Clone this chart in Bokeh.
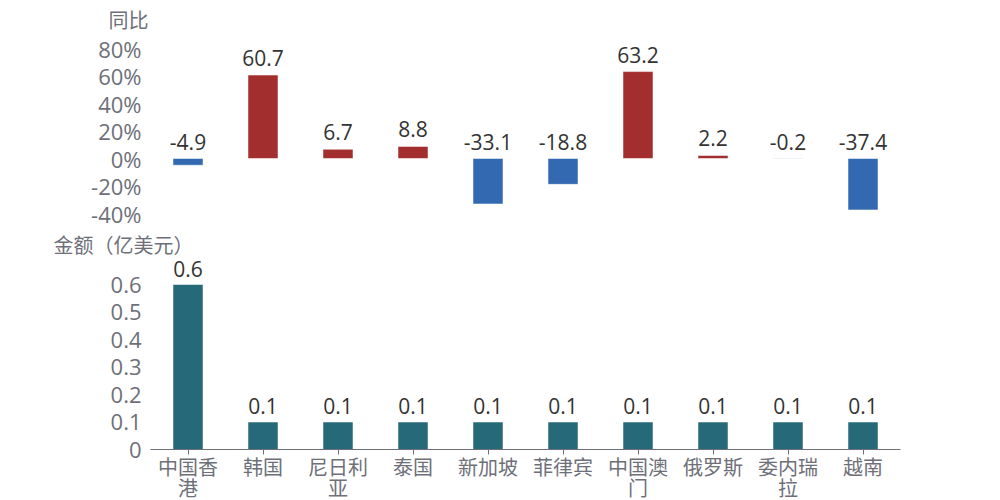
from bokeh.plotting import figure
from bokeh.layouts import column
from bokeh.models import (ColumnDataSource, FactorRange, Range1d, FixedTicker,
                          PrintfTickFormatter, CustomJSTickFormatter, Title, CategoricalAxis)
from bokeh.core.properties import value
from bokeh.embed import file_html
from bokeh.resources import INLINE

categories = ["中国香港", "韩国", "尼日利亚", "泰国", "新加坡", "菲律宾", "中国澳门", "俄罗斯", "委内瑞拉", "越南"]
label_line1 = ["中国香", "韩国", "尼日利", "泰国", "新加坡", "菲律宾", "中国澳", "俄罗斯", "委内瑞", "越南"]
label_line2 = ["港", "", "亚", "", "", "", "门", "", "拉", ""]
yoy = [-4.9, 60.7, 6.7, 8.8, -33.1, -18.8, 63.2, 2.2, -0.2, -37.4]
amount = [0.6, 0.1, 0.1, 0.1, 0.1, 0.1, 0.1, 0.1, 0.1, 0.1]
yoy_ticks = [-40, -20, 0, 20, 40, 60, 80]
amount_ticks = [0, 0.1, 0.2, 0.3, 0.4, 0.5, 0.6]

FONT = "Open Sans, Noto Sans CJK SC"
CJK = "Noto Sans CJK SC"
GREY = "#6e7079"
RED = "#a32e2e"
BLUE = "#3369b0"
TEAL = "#266a7a"

top_src = ColumnDataSource(dict(
    cat=categories, v=yoy,
    color=[RED if x >= 0 else BLUE for x in yoy],
    ly=[max(x, 0) for x in yoy],
    txt=[f"{x:.1f}" for x in yoy],
))
bot_src = ColumnDataSource(dict(
    cat=categories, v=amount, txt=[f"{x:.1f}" for x in amount],
))

def line_formatter(lines):
    return CustomJSTickFormatter(
        args=dict(cats=categories, lines=lines),
        code="const i = cats.indexOf(tick); return i >= 0 ? lines[i] : String(tick);")

# ---- top panel ----  (80% at y=48, -40% at y=213)
p1 = figure(x_range=FactorRange(*categories), y_range=Range1d(-40, -40 + 177 / 1.375),
            frame_width=750, frame_height=177, min_border_left=150, min_border_right=100,
            min_border_top=36, min_border_bottom=17, x_axis_location=None,
            output_backend="svg", toolbar_location=None)
p1.title = Title(text="同比", align="left", offset=-42, standoff=5,
                 text_font=CJK, text_font_size="20px", text_font_style="normal",
                 text_color=GREY)
p1.vbar(x="cat", top="v", bottom=0, width=0.4, source=top_src, fill_color="color",
        line_color="white", line_alpha=0.5, line_width=1)
p1.text(x="cat", y="ly", text="txt", source=top_src, text_align="center",
        text_baseline="bottom", y_offset=-9, text_font=value(FONT),
        text_font_size="21px", text_color="#333333")
p1.yaxis.ticker = FixedTicker(ticks=yoy_ticks)
p1.yaxis.formatter = PrintfTickFormatter(format="%d%%")

# ---- bottom panel ---- (0 at y=449, 0.1 per 27.5px)
p2 = figure(x_range=p1.x_range, y_range=Range1d(0, 193 / 275),
            frame_width=750, frame_height=193, min_border_left=150, min_border_right=100,
            min_border_top=26, min_border_bottom=51,
            output_backend="svg", toolbar_location=None)
p2.title = Title(text="金额（亿美元）", align="left", offset=-97, standoff=-5,
                 text_font=CJK, text_font_size="20px", text_font_style="normal",
                 text_color=GREY)
p2.vbar(x="cat", top="v", bottom=0, width=0.4, source=bot_src, fill_color=TEAL,
        line_color="white", line_alpha=0.5, line_width=1)
p2.text(x="cat", y="v", text="txt", source=bot_src, text_align="center",
        text_baseline="bottom", y_offset=-8, text_font=value(FONT),
        text_font_size="21px", text_color="#333333")
p2.yaxis.ticker = FixedTicker(ticks=amount_ticks)
p2.yaxis.formatter = CustomJSTickFormatter(code="return String(Number(tick.toFixed(1)));")

p2.xaxis.formatter = line_formatter(label_line1)
ax2 = CategoricalAxis(formatter=line_formatter(label_line2),
                      axis_line_color=None, major_tick_line_color=None,
                      major_tick_in=0, major_tick_out=0, major_label_standoff=-11,
                      major_label_text_font=CJK, major_label_text_font_size="20px",
                      major_label_text_color=GREY)
p2.add_layout(ax2, "below")

for p in (p1, p2):
    p.xgrid.visible = False
    p.ygrid.visible = False
    p.outline_line_color = None
    p.yaxis.axis_line_color = None
    p.yaxis.major_tick_line_color = None
    p.yaxis.minor_tick_line_color = None
    p.yaxis.major_label_text_font = FONT
    p.yaxis.major_label_text_font_size = "22px"
    p.yaxis.major_label_text_color = GREY
    p.yaxis.major_label_standoff = 3

xa = p2.xaxis[0]
xa.axis_line_color = GREY
xa.major_tick_line_color = GREY
xa.major_tick_in = 0
xa.major_tick_out = 5
xa.major_label_standoff = -3
xa.major_label_text_font = CJK
xa.major_label_text_font_size = "20px"
xa.major_label_text_color = GREY

layout = column(p1, p2, spacing=0)
open("out.html", "w").write(file_html(layout, INLINE))
